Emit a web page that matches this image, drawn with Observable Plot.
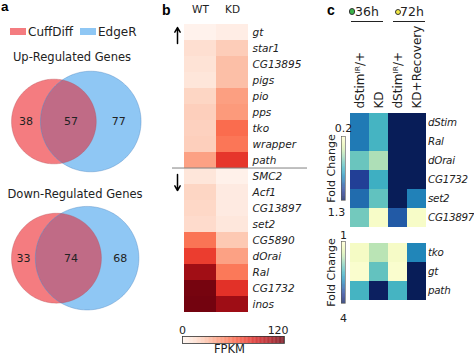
<!DOCTYPE html>
<html><head><meta charset="utf-8">
<script src="https://cdn.jsdelivr.net/npm/d3@7"></script>
<script src="https://cdn.jsdelivr.net/npm/@observablehq/plot@0.6"></script>
<style>
body{margin:0;background:#fff;}
#fig{position:relative;width:474px;height:356px;overflow:hidden;font-family:"DejaVu Sans",sans-serif;color:#222;background:#fff;}
.abs{position:absolute;}
.abs svg{display:block;overflow:visible;}
.lbl{position:absolute;white-space:nowrap;line-height:1;font-family:"DejaVu Sans",sans-serif;color:#222;}
.genes [aria-label^="y-axis"] text{font-style:italic;}
.cmap [aria-label^="x-axis"] text{font-size:12px;}
.cmap [aria-label^="y-axis"] text{font-size:10.3px;letter-spacing:-0.25px;}
</style></head>
<body><div id="fig"></div>
<script>
// ---------------- data ----------------
const vennSets = ["CuffDiff", "EdgeR"];
const vennColors = ["#f47c80", "#8fc7f4"];
const vennOverlapColor = "#c06b86";
const vennTitles = ["Up-Regulated Genes", "Down-Regulated Genes"];
const upCounts = [38, 57, 77];     // CuffDiff only, shared, EdgeR only
const downCounts = [33, 74, 68];

const bConditions = ["WT", "KD"];
const bGenesUp = ["gt", "star1", "CG13895", "pigs", "pio", "pps", "tko", "wrapper", "path"];
const bWTUp = [2, 15, 13, 11, 20, 23, 22, 23, 42];
const bKDUp = [6, 24, 30, 30, 43, 45, 63, 59, 83];
const bGenesDown = ["SMC2", "Acf1", "CG13897", "set2", "CG5890", "dOrai", "Ral", "CG1732", "inos"];
const bWTDown = [11, 20, 19, 17, 60, 80, 112, 124, 125];
const bKDDown = [3, 8, 8, 10, 26, 42, 58, 85, 113];
const bLegendTicks = [0, 120];
const bLegendLabel = "FPKM";

const cTimeGroups = ["36h", "72h"];
const cConditionKeys = ["c36", "kd36", "c72", "kdr72"];
const cConditionLabels = ["dStimᴵᴿ/+", "KD", "dStimᴵᴿ/+", "KD+Recovery"];
const cGenes1 = ["dStim", "Ral", "dOrai", "CG1732", "set2", "CG13897"];
const c1Ctrl36 = [0.95, 0.95, 0.66, 1.13, 0.99, 0.64];
const c1KD36 = [0.75, 0.75, 0.52, 0.77, 0.68, 0.26];
const c1Ctrl72 = [1.3, 1.3, 1.3, 1.3, 1.3, 1.04];
const c1KDRec72 = [1.3, 1.3, 1.3, 1.3, 0.93, 0.26];
const cGenes2 = ["tko", "gt", "path"];
const c2Ctrl36 = [1.2, 1.1, 2.5];
const c2KD36 = [1.8, 2.3, 3.95];
const c2Ctrl72 = [1.18, 1.1, 2.5];
const c2KDRec72 = [2.95, 4, 4];
const c1LegendTicks = [0.2, 1.3];
const c2LegendTicks = [1, 4];
const cLegendLabel = "Fold Change";

// ---------------- helpers ----------------
const fig = document.getElementById("fig");
function place(node, left, top) {
  const d = document.createElement("div");
  d.className = "abs"; d.style.left = left + "px"; d.style.top = top + "px";
  d.appendChild(node); fig.appendChild(d); return d;
}
function label(text, left, top, size, extra = {}) {
  const d = document.createElement("div");
  d.className = "lbl"; d.textContent = text;
  d.style.left = left + "px"; d.style.top = top + "px"; d.style.fontSize = size + "px";
  Object.assign(d.style, extra);
  fig.appendChild(d); return d;
}
function box(left, top, w, h, css) {
  const d = document.createElement("div");
  d.style.position = "absolute"; d.style.left = left + "px"; d.style.top = top + "px";
  d.style.width = w + "px"; d.style.height = h + "px";
  Object.assign(d.style, css); fig.appendChild(d); return d;
}
const baseStyle = {background: "transparent", fontFamily: "DejaVu Sans", overflow: "visible", color: "#222"};

// ---------------- panel a: Venn diagrams ----------------
function lensArea(r1, r2, d) {
  if (d >= r1 + r2) return 0;
  if (d <= Math.abs(r1 - r2)) return Math.PI * Math.min(r1, r2) ** 2;
  const a1 = r1 * r1 * Math.acos((d * d + r1 * r1 - r2 * r2) / (2 * d * r1));
  const a2 = r2 * r2 * Math.acos((d * d + r2 * r2 - r1 * r1) / (2 * d * r2));
  const k = 0.5 * Math.sqrt((-d + r1 + r2) * (d + r1 - r2) * (d - r1 + r2) * (d + r1 + r2));
  return a1 + a2 - k;
}
function venn(counts, cxPx, cyPx, W, H) {
  const [onlyA, shared, onlyB] = counts;
  const k = 7.7; // px per unit
  const rA = Math.sqrt((onlyA + shared) / Math.PI), rB = Math.sqrt((onlyB + shared) / Math.PI);
  let lo = Math.abs(rA - rB), hi = rA + rB;
  for (let i = 0; i < 60; i++) { const m = (lo + hi) / 2; if (lensArea(rA, rB, m) > shared) lo = m; else hi = m; }
  const d = (lo + hi) / 2;
  const circle = (cx, r) => d3.range(0, 360, 2).map(a => ({x: cx + r * Math.cos(a * Math.PI / 180), y: r * Math.sin(a * Math.PI / 180)}));
  const x0 = (d * d + rA * rA - rB * rB) / (2 * d), h = Math.sqrt(rA * rA - x0 * x0);
  const tA = Math.atan2(h, x0), tB = Math.atan2(h, d - x0);
  const lens = [
    ...d3.range(0, 61).map(i => { const t = -tA + 2 * tA * i / 60; return {x: rA * Math.cos(t), y: rA * Math.sin(t)}; }),
    ...d3.range(0, 61).map(i => { const t = Math.PI - tB + 2 * tB * i / 60; return {x: d + rB * Math.cos(t), y: rB * Math.sin(t)}; })
  ];
  const u = (d + rB - rA) / 2;
  const labels = [
    {x: (-rA + d - rB) / 2, text: String(onlyA)},
    {x: (d - rB + rA) / 2 + 0.35, text: String(shared)},
    {x: (rA + d + rB) / 2, text: String(onlyB)}
  ];
  return Plot.plot({
    width: W, height: H, margin: 0,
    style: {...baseStyle, fontSize: "11px"},
    x: {domain: [u - cxPx / k, u + (W - cxPx) / k], axis: null},
    y: {domain: [-(H - cyPx) / k, cyPx / k], axis: null},
    marks: [
      Plot.line(circle(0, rA), {x: "x", y: "y", curve: "linear-closed", fill: vennColors[0], stroke: "none"}),
      Plot.line(circle(d, rB), {x: "x", y: "y", curve: "linear-closed", fill: vennColors[1], stroke: "none"}),
      Plot.line(lens, {x: "x", y: "y", curve: "linear-closed", fill: vennOverlapColor, stroke: "none"}),
      Plot.line(circle(0, rA), {x: "x", y: "y", curve: "linear-closed", stroke: "#b4505a", strokeOpacity: 0.45, strokeWidth: 0.8}),
      Plot.line(circle(d, rB), {x: "x", y: "y", curve: "linear-closed", stroke: "#4a7fb8", strokeOpacity: 0.45, strokeWidth: 0.8}),
      Plot.text(labels, {x: "x", y: () => 0, text: "text", fill: "#222"})
    ]
  });
}

label("a", 1, 0, 13.5, {fontFamily: "Liberation Sans, Arial", fontWeight: "bold", color: "#000"});
box(10, 28, 16, 7, {background: vennColors[0]});
label(vennSets[0], 28, 25.6, 12);
box(80, 28, 16, 7, {background: vennColors[1]});
label(vennSets[1], 98, 25.6, 12);
label(vennTitles[0], 0, 52, 11.5, {width: "144px", textAlign: "center"});
place(venn(upCounts, 75.8, 55, 160, 118), 0, 66);
label(vennTitles[1], 0, 188.6, 11.5, {width: "150px", textAlign: "center"});
place(venn(downCounts, 74.7, 57.7, 160, 118), 0, 200);

// ---------------- panel b: FPKM heatmap ----------------
const bGenes = [...bGenesUp, ...bGenesDown];
const bRows = [];
bGenesUp.forEach((g, i) => { bRows.push({gene: g, condition: "WT", fpkm: bWTUp[i]}, {gene: g, condition: "KD", fpkm: bKDUp[i]}); });
bGenesDown.forEach((g, i) => { bRows.push({gene: g, condition: "WT", fpkm: bWTDown[i]}, {gene: g, condition: "KD", fpkm: bKDDown[i]}); });
const bH = 325, bMT = 15, bMB = 5;
const bRowH = (bH - bMT - bMB) / bGenes.length;
const bColor = {type: "linear", scheme: "reds", domain: [0, 128]};
const bArrows = [{from: bGenesUp[1], to: bGenesUp[0]}, {from: bGenesDown[0], to: bGenesDown[1]}];

const bPlot = Plot.plot({
  width: 150, height: bH, marginLeft: 24, marginRight: 62, marginTop: bMT, marginBottom: bMB,
  style: {...baseStyle, fontSize: "10.5px"},
  x: {domain: bConditions, padding: 0, axis: "top", tickSize: 0, tickPadding: 3, label: null},
  y: {domain: bGenes, padding: 0, axis: "right", tickSize: 0, tickPadding: 4, label: null},
  color: bColor,
  marks: [
    Plot.cell(bRows, {x: "condition", y: "gene", fill: "fpkm"}),
    Plot.ruleY([bGenesDown[0]], {y: d => d, dy: -bRowH / 2, insetLeft: -12, insetRight: -59, stroke: "#808080", strokeWidth: 1}),
    Plot.arrow(bArrows.slice(0, 1), {x1: () => bConditions[0], x2: () => bConditions[0], y1: "from", y2: "to", dx: -23, dy: -5, stroke: "#000", strokeWidth: 1.5, headLength: 6}),
    Plot.arrow(bArrows.slice(1), {x1: () => bConditions[0], x2: () => bConditions[0], y1: "from", y2: "to", dx: -23, dy: -2, stroke: "#000", strokeWidth: 1.5, headLength: 6})
  ]
});
const bDiv = place(bPlot, 160, 0); bDiv.classList.add("genes");
label("b", 162, 3.4, 14, {fontFamily: "Liberation Sans, Arial", fontWeight: "bold", color: "#000"});

const bSteps = d3.range(0, 128, 1);
const bLegend = Plot.plot({
  width: 140, height: 36, marginLeft: 22, marginRight: 16, marginTop: 16, marginBottom: 13,
  style: {...baseStyle, fontSize: "11px"},
  x: {domain: [0, 128], axis: "top", ticks: bLegendTicks, tickSize: 0, tickPadding: 3, label: null},
  color: bColor,
  marks: [
    Plot.rect(bSteps, {x1: d => d, x2: d => d + 1, fill: d => d}),
    Plot.frame({stroke: "#333", strokeWidth: 0.8}),
    Plot.text([bLegendLabel], {frameAnchor: "bottom", lineAnchor: "top", dy: 1, dx: -4, fontSize: 11.5})
  ]
});
place(bLegend, 160, 320);

// ---------------- panel c: fold-change heatmaps ----------------
function cRows(genes, cols) {
  const rows = [];
  genes.forEach((g, i) => cConditionKeys.forEach((k, j) => rows.push({gene: g, cond: k, fc: cols[j][i]})));
  return rows;
}
const c1Data = cRows(cGenes1, [c1Ctrl36, c1KD36, c1Ctrl72, c1KDRec72]);
const c2Data = cRows(cGenes2, [c2Ctrl36, c2KD36, c2Ctrl72, c2KDRec72]);
const c1Color = {type: "linear", scheme: "ylgnbu", domain: c1LegendTicks};
const c2Color = {type: "linear", scheme: "ylgnbu", domain: c2LegendTicks};
const cFmt = k => cConditionLabels[cConditionKeys.indexOf(k)];

const c1Plot = Plot.plot({
  width: 154, height: 230, marginLeft: 29, marginRight: 48, marginTop: 113, marginBottom: 3,
  style: {...baseStyle, fontSize: "11px"},
  x: {domain: cConditionKeys, padding: 0, axis: "top", tickSize: 0, tickPadding: 5, tickRotate: -90, tickFormat: cFmt, label: null},
  y: {domain: cGenes1, padding: 0, axis: "right", tickSize: 0, tickPadding: 1.5, label: null},
  color: c1Color,
  marks: [Plot.cell(c1Data, {x: "cond", y: "gene", fill: "fc"})]
});
const c1Div = place(c1Plot, 320, 0); c1Div.classList.add("genes", "cmap");

const c2Plot = Plot.plot({
  width: 154, height: 75, marginLeft: 29, marginRight: 48, marginTop: 12, marginBottom: 5,
  style: {...baseStyle, fontSize: "11px"},
  x: {domain: cConditionKeys, padding: 0, axis: null},
  y: {domain: cGenes2, padding: 0, axis: "right", tickSize: 0, tickPadding: 1.5, label: null},
  color: c2Color,
  marks: [Plot.cell(c2Data, {x: "cond", y: "gene", fill: "fc"})]
});
const c2Div = place(c2Plot, 320, 230); c2Div.classList.add("genes", "cmap");

function cLegend(ticks, color, mb, dTop, dBot, dxBot) {
  const [lo, hi] = ticks;
  const steps = d3.range(0, 100).map(i => lo + (hi - lo) * i / 100);
  const step = (hi - lo) / 100;
  return Plot.plot({
    width: 30, height: 100, marginLeft: 21, marginRight: 5, marginTop: 16, marginBottom: mb,
    style: {...baseStyle, fontSize: "11px"},
    y: {domain: ticks, reverse: true, axis: null},
    color,
    marks: [
      Plot.rect(steps, {y1: d => d, y2: d => d + step, fill: d => d}),
      Plot.frame({stroke: "#555", strokeWidth: 0.6}),
      Plot.text([lo], {y: d => d, text: d => String(d), dy: dTop}),
      Plot.text([hi], {y: d => d, text: d => String(d), dy: dBot, dx: dxBot}),
      Plot.text([cLegendLabel], {frameAnchor: "middle", rotate: -90, dx: -12, fontSize: 11})
    ]
  });
}
place(cLegend(c1LegendTicks, c1Color, 20, -8, 12, -7), 320, 120);
place(cLegend(c2LegendTicks, c2Color, 22, -6, 15, 0), 320, 225);

label("c", 327, 3.4, 14, {fontFamily: "Liberation Sans, Arial", fontWeight: "bold", color: "#000"});
box(349, 8.3, 4.4, 4.4, {background: "#3cb449", borderRadius: "50%", border: "0.6px solid #333"});
label(cTimeGroups[0], 355, 5.6, 12.5);
box(350.7, 21.3, 32, 1, {background: "#222"});
box(395, 8.6, 4.4, 4.4, {background: "#f3ea45", borderRadius: "50%", border: "0.6px solid #333"});
label(cTimeGroups[1], 400, 5.6, 12.5);
box(392.7, 21.3, 32.5, 1, {background: "#222"});
</script></body></html>
